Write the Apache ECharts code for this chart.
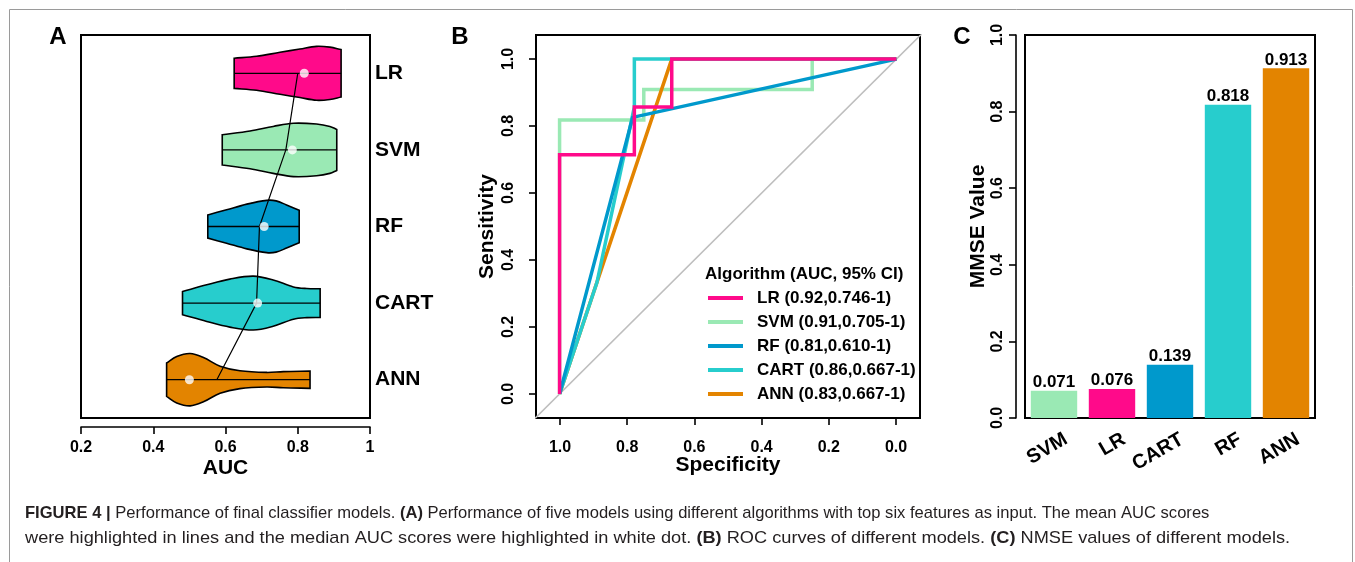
<!DOCTYPE html>
<html>
<head>
<meta charset="utf-8">
<style>
  html, body { margin: 0; padding: 0; background: #fff; }
  #chart { width: 1355px; height: 562px; }
</style>
<script src="https://cdn.jsdelivr.net/npm/echarts@6.0.0/dist/echarts.min.js"></script>
</head>
<body>
<div id="chart"></div>
<script>
const FONT = '"Liberation Sans", Arial, sans-serif';

// colours
const pink = '#FF0A8A', green = '#9AE9B4', blue = '#0099CC', cyan = '#27CDCD', orange = '#E38400';

// --- panel A : violins (auc, relative half width)
const models = ['LR', 'SVM', 'RF', 'CART', 'ANN'];
const violinOrder = ['ANN', 'CART', 'RF', 'SVM', 'LR'];
const violinColors = [pink, green, blue, cyan, orange];
const lrProfile = [[0.624, 0.56], [0.686, 0.63], [0.751, 0.78], [0.806, 0.9], [0.852, 1.0], [0.889, 0.97], [0.92, 0.88]];
const svmProfile = [[0.591, 0.56], [0.668, 0.7], [0.732, 0.87], [0.788, 0.99], [0.852, 0.96], [0.889, 0.87], [0.908, 0.76]];
const rfProfile = [[0.551, 0.43], [0.603, 0.62], [0.659, 0.83], [0.714, 0.97], [0.74, 0.95], [0.769, 0.8], [0.804, 0.6]];
const cartProfile = [[0.481, 0.43], [0.548, 0.68], [0.612, 0.89], [0.677, 1.0], [0.732, 0.86], [0.788, 0.6], [0.825, 0.54], [0.862, 0.53]];
const annProfile = [[0.437, 0.62], [0.465, 0.86], [0.502, 0.97], [0.539, 0.82], [0.585, 0.5], [0.64, 0.33], [0.714, 0.27], [0.76, 0.3], [0.834, 0.32]];
const profiles = [lrProfile, svmProfile, rfProfile, cartProfile, annProfile];
const meanAuc = [0.800, 0.767, 0.694, 0.686, 0.576];
const medianAuc = [0.818, 0.785, 0.707, 0.689, 0.500];

// --- panel B : ROC curves (specificity, sensitivity)
const rocLR = [[1, 0], [1, 0.714], [0.778, 0.714], [0.778, 0.857], [0.667, 0.857], [0.667, 1], [0, 1]];
const rocSVM = [[1, 0], [1, 0.818], [0.75, 0.818], [0.75, 0.909], [0.25, 0.909], [0.25, 1], [0, 1]];
const rocRF = [[1, 0], [0.783, 0.826], [0, 1]];
const rocCART = [[1, 0], [0.889, 0.333], [0.778, 0.857], [0.778, 1], [0, 1]];
const rocANN = [[1, 0], [0.667, 1], [0, 1]];
const rocLegend = ['(0.92,0.746-1)', '(0.91,0.705-1)', '(0.81,0.610-1)', '(0.86,0.667-1)', '(0.83,0.667-1)'];
const chanceLine = [[1.2, -0.2], [-0.2, 1.2]];

// --- panel C : bars
const barModels = ['SVM', 'LR', 'CART', 'RF', 'ANN'];
const mmseValues = [0.071, 0.076, 0.139, 0.818, 0.913];
const barColors = [green, pink, blue, cyan, orange];

const tickFmt = v => v.toFixed(1);
const boldLabel = (size) => ({ fontFamily: FONT, fontWeight: 'bold', fontSize: size, color: '#000' });

function violin(profile, color) {
  return function (params, api) {
    const y = api.value(1);
    const half = api.size([0, 1])[1] * 0.352;
    const n = profile.length;
    const top = profile.map(p => { const c = api.coord([p[0], y]); return [c[0], c[1] - p[1] * half]; });
    const bot = profile.map(p => { const c = api.coord([p[0], y]); return [c[0], c[1] + p[1] * half]; }).reverse();
    const pts = [top[0], ...top, top[n - 1], bot[0], ...bot, bot[n - 1]];
    const a = api.coord([profile[0][0], y]);
    const b = api.coord([profile[n - 1][0], y]);
    return {
      type: 'group',
      children: [
        { type: 'polygon', shape: { points: pts, smooth: 0.35 }, style: { fill: color, stroke: '#000', lineWidth: 1.6 } },
        { type: 'line', shape: { x1: a[0], y1: a[1], x2: b[0], y2: b[1] }, style: { stroke: '#000', lineWidth: 1.3 } }
      ]
    };
  };
}

const violinSeries = models.map((m, i) => ({
  name: 'violin ' + m,
  type: 'custom',
  xAxisIndex: 0, yAxisIndex: 0,
  encode: { x: 0, y: 1 },
  data: [[medianAuc[i], m]],
  renderItem: violin(profiles[i], violinColors[i]),
  z: 2
}));

function rocSeries(name, data, color) {
  return {
    name: name, type: 'line', xAxisIndex: 1, yAxisIndex: 1,
    data: data, symbol: 'none', color: color,
    lineStyle: { color: color, width: 3.5, join: 'miter', cap: 'butt' },
    itemStyle: { color: color },
    animation: false
  };
}

const baseGrid = { outerBoundsMode: 'none', containLabel: false };
const boxGrid = { show: true, borderColor: '#000', borderWidth: 2, backgroundColor: 'transparent' };
const axisLineStyle = { show: true, lineStyle: { color: '#000', width: 1.6 } };
const axisTickStyle = { show: true, length: 7, lineStyle: { color: '#000', width: 1.6 } };

const captionRich = { b: { fontFamily: FONT, fontSize: 17, fontWeight: 'bold', fill: '#231F20' } };

const option = {
  animation: false,
  grid: [
    Object.assign({ left: 81, top: 35, width: 289, height: 383 }, baseGrid, boxGrid),
    Object.assign({ left: 536, top: 35, width: 384, height: 383 }, baseGrid, boxGrid),
    Object.assign({ left: 560, top: 35, width: 336, height: 383 }, baseGrid),
    Object.assign({ left: 536, top: 59, width: 384, height: 335 }, baseGrid),
    Object.assign({ left: 1025, top: 35, width: 290, height: 383 }, baseGrid, boxGrid),
    Object.assign({ left: 1037, top: 35, width: 290, height: 383 }, baseGrid)
  ],
  xAxis: [
    {
      gridIndex: 0, type: 'value', min: 0.2, max: 1, interval: 0.2, offset: 9,
      axisLine: axisLineStyle, axisTick: axisTickStyle, splitLine: { show: false },
      axisLabel: Object.assign({ margin: 13, formatter: v => (v >= 0.999 ? '1' : v.toFixed(1)) }, boldLabel(16)),
      name: 'AUC', nameLocation: 'middle', nameGap: 31, nameMoveOverlap: false, nameTextStyle: boldLabel(21)
    },
    { gridIndex: 1, type: 'value', min: -0.07, max: 1.07, inverse: true, show: false },
    {
      gridIndex: 2, type: 'value', min: 0, max: 1, interval: 0.2, inverse: true, offset: 9,
      axisLine: axisLineStyle, axisTick: axisTickStyle, splitLine: { show: false },
      axisLabel: Object.assign({ margin: 13, formatter: tickFmt }, boldLabel(16)),
      name: 'Specificity', nameLocation: 'middle', nameGap: 28, nameMoveOverlap: false, nameTextStyle: boldLabel(21)
    },
    { gridIndex: 3, type: 'value', min: 0, max: 1, show: false },
    {
      gridIndex: 4, type: 'category', data: barModels,
      axisLine: { show: false }, axisTick: { show: false }, axisLabel: { show: false }
    },
    {
      gridIndex: 5, type: 'category', data: barModels,
      axisLine: { show: false }, axisTick: { show: false },
      axisLabel: Object.assign({ rotate: 30, margin: 20, interval: 0 }, boldLabel(20))
    }
  ],
  yAxis: [
    {
      gridIndex: 0, type: 'category', data: violinOrder, position: 'right',
      axisLine: { show: false }, axisTick: { show: false },
      axisLabel: Object.assign({ margin: 5 }, boldLabel(21))
    },
    { gridIndex: 1, type: 'value', min: -0.072, max: 1.072, show: false },
    { gridIndex: 2, type: 'value', min: 0, max: 1, show: false },
    {
      gridIndex: 3, type: 'value', min: 0, max: 1, interval: 0.2, offset: 10,
      axisLine: axisLineStyle, axisTick: axisTickStyle, splitLine: { show: false },
      axisLabel: Object.assign({ rotate: 90, margin: 9, formatter: tickFmt }, boldLabel(16)),
      name: 'Sensitivity', nameLocation: 'middle', nameGap: 28, nameRotate: 90, nameTextStyle: boldLabel(21)
    },
    {
      gridIndex: 4, type: 'value', min: 0, max: 1, interval: 0.2, offset: 9,
      axisLine: axisLineStyle, axisTick: axisTickStyle, splitLine: { show: false },
      axisLabel: Object.assign({ rotate: 90, margin: 10, formatter: tickFmt }, boldLabel(16)),
      name: 'MMSE Value', nameLocation: 'middle', nameGap: 27, nameRotate: 90, nameTextStyle: boldLabel(21)
    },
    { gridIndex: 5, type: 'value', min: 0, max: 1, show: false }
  ],
  legend: {
    data: models, orient: 'vertical', left: 703, top: 284,
    icon: 'rect', itemWidth: 35, itemHeight: 4, itemGap: 6, selectedMode: false,
    textStyle: Object.assign({ lineHeight: 18, padding: [0, 0, 0, 9] }, boldLabel(17)),
    formatter: name => name + ' ' + rocLegend[models.indexOf(name)]
  },
  series: [
    ...violinSeries,
    {
      name: 'mean', type: 'line', xAxisIndex: 0, yAxisIndex: 0,
      data: models.map((m, i) => [meanAuc[i], m]),
      symbol: 'none', lineStyle: { color: '#000', width: 1.2 }, z: 3
    },
    {
      name: 'median', type: 'scatter', xAxisIndex: 0, yAxisIndex: 0,
      data: models.map((m, i) => [medianAuc[i], m]),
      symbolSize: 9, itemStyle: { color: '#fff' }, z: 4
    },
    {
      name: 'chance', type: 'line', xAxisIndex: 1, yAxisIndex: 1, data: chanceLine,
      symbol: 'none', clip: true, lineStyle: { color: '#BEBEBE', width: 1.6 }
    },
    rocSeries('SVM', rocSVM, green),
    rocSeries('ANN', rocANN, orange),
    rocSeries('CART', rocCART, cyan),
    rocSeries('RF', rocRF, blue),
    rocSeries('LR', rocLR, pink),
    {
      name: 'MMSE', type: 'bar', xAxisIndex: 4, yAxisIndex: 4, barWidth: '80%',
      data: mmseValues.map((v, i) => ({ value: v, itemStyle: { color: barColors[i] } })),
      label: Object.assign({ show: true, position: 'top', distance: 0, formatter: p => p.value.toFixed(3) }, boldLabel(17))
    }
  ],
  graphic: [
    { type: 'rect', shape: { x: 9.5, y: 9.5, width: 1343, height: 600 }, style: { fill: 'none', stroke: '#9a9a9a', lineWidth: 1 }, silent: true },
    { type: 'text', x: 58, y: 37, style: { text: 'A', fontFamily: FONT, fontWeight: 'bold', fontSize: 24, fill: '#000', align: 'center', verticalAlign: 'middle' } },
    { type: 'text', x: 460, y: 37, style: { text: 'B', fontFamily: FONT, fontWeight: 'bold', fontSize: 24, fill: '#000', align: 'center', verticalAlign: 'middle' } },
    { type: 'text', x: 962, y: 37, style: { text: 'C', fontFamily: FONT, fontWeight: 'bold', fontSize: 24, fill: '#000', align: 'center', verticalAlign: 'middle' } },
    { type: 'text', x: 705, y: 274, style: { text: 'Algorithm (AUC, 95% CI)', fontFamily: FONT, fontWeight: 'bold', fontSize: 17, fill: '#000', verticalAlign: 'middle' } },
    {
      type: 'text', x: 25, y: 513, scaleX: 0.975, originX: 0,
      style: {
        text: '{b|FIGURE 4 |} Performance of final classifier models. {b|(A)} Performance of five models using different algorithms with top six features as input. The mean AUC scores',
        fontFamily: FONT, fontSize: 17, fill: '#231F20', verticalAlign: 'middle', rich: captionRich
      }
    },
    {
      type: 'text', x: 25, y: 538, scaleX: 1.07, originX: 0,
      style: {
        text: 'were highlighted in lines and the median AUC scores were highlighted in white dot. {b|(B)} ROC curves of different models. {b|(C)} NMSE values of different models.',
        fontFamily: FONT, fontSize: 17, fill: '#231F20', verticalAlign: 'middle', rich: captionRich
      }
    }
  ]
};

const chart = echarts.init(document.getElementById('chart'), null, { renderer: 'canvas' });
chart.setOption(option);
</script>
</body>
</html>
